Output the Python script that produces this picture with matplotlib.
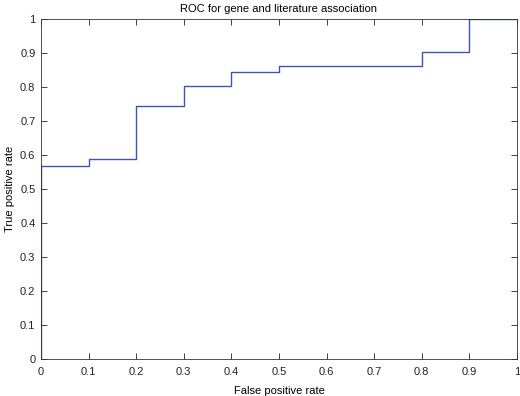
import matplotlib
matplotlib.use("Agg")
import matplotlib.pyplot as plt
import numpy as np

fpr = [0.0, 0.0, 0.1, 0.2, 0.3, 0.4, 0.5, 0.8, 0.9, 1.0]
tpr = [0.0, 0.569, 0.588, 0.745, 0.804, 0.843, 0.863, 0.902, 1.0, 1.0]
xticks = [0, 0.1, 0.2, 0.3, 0.4, 0.5, 0.6, 0.7, 0.8, 0.9, 1]
yticks = [0, 0.1, 0.2, 0.3, 0.4, 0.5, 0.6, 0.7, 0.8, 0.9, 1]

plt.rcParams['font.family'] = ['Liberation Sans', 'DejaVu Sans']
fig = plt.figure(figsize=(5.2, 3.96), dpi=100)
ax = fig.add_axes([41/520, 37/396, 476/520, 340/396])
ax.step(fpr, tpr, where='post', color='#3a55b4', lw=1.0)
ax.set_xlim(0, 1)
ax.set_ylim(0, 1)
ax.set_xticks(xticks)
ax.set_yticks(yticks)
ax.set_xticklabels([f"{t:g}" for t in xticks])
ax.set_yticklabels([f"{t:g}" for t in yticks])
ax.tick_params(direction='in', top=True, right=True, length=4, width=0.6, labelsize=8, pad=4, colors='#222222')
ax.tick_params(axis='x', pad=6)
for s in ax.spines.values():
    s.set_linewidth(0.6)
    s.set_color('#333333')
ax.set_xlabel('False positive rate', fontsize=8, labelpad=6)
ax.set_ylabel('True positive rate', fontsize=8, labelpad=4)
ax.set_title('ROC for gene and literature association', fontsize=8, pad=5)
fig.savefig('out.png', dpi=100)
